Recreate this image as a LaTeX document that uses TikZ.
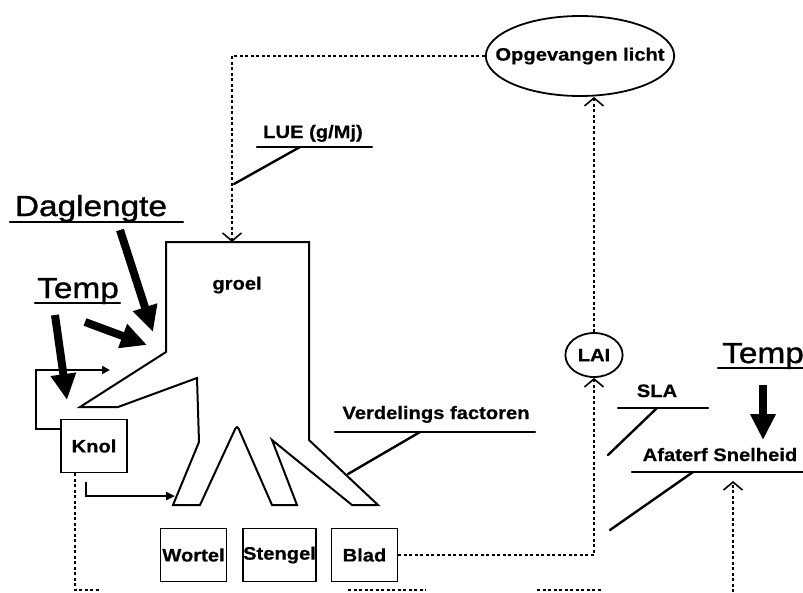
\documentclass[tikz,border=0pt]{standalone}
\usepackage{fontspec}
\setmainfont{Liberation Sans}
\newfontfamily\smallfont[FakeStretch=1.12,FakeBold=0.6]{Liberation Sans}
\newfontfamily\bigfont[FakeStretch=1.15,FakeBold=1.2]{Liberation Sans}
\usetikzlibrary{shapes,arrows.meta,positioning}

\begin{document}
\begin{tikzpicture}[x=1pt,y=-1pt,
	small/.style={font=\smallfont\bfseries\fontsize{18}{20}\selectfont,inner sep=0pt},
	big/.style={font=\bigfont\fontsize{29}{32}\selectfont,inner sep=0pt,anchor=base},
	box/.style={small,draw,line width=1.6pt,minimum width=66pt,minimum height=53pt},
	bubble/.style={small,draw,ellipse,line width=1.8pt,inner ysep=0pt},
	uline/.style={line width=2.4pt,line cap=round},
	dotline/.style={line width=2.2pt,dash pattern=on 3pt off 2.5pt,-{Straight Barb[length=8pt,width=19pt,line width=1.6pt]}},
	bigarrow/.style={line width=8pt,-{Triangle[length=26pt,width=24pt]}}]
	\fill[white] (0,0) rectangle (803,592);
	\useasboundingbox (0,0) rectangle (803,592);

	\node[bubble,inner xsep=-18pt,minimum height=80pt] (opg) at (580,56) {Opgevangen licht};
	\node[bubble,inner xsep=4pt,minimum height=44pt] (lai) at (594,355) {LAI};
	\node[box] (knol) at (94,446) {Knol};
	\node[box] (wortel) at (193.5,555) {Wortel};
	\node[box] (stengel) at (279.5,555) {Stengel};
	\node[box] (blad) at (364.5,555) {Blad};
	\node[small] (groel) at (237,285) {groel};

	\node[big] (dag) at (91,216) {Daglengte};
	\node[big] (temp1) at (78,298) {Temp};
	\node[big] (temp2) at (763,363) {Temp};
	\node[small,anchor=base] (lue) at (313,138) {LUE (g/Mj)};
	\node[small,anchor=base] (verd) at (436,419) {Verdelings factoren};
	\node[small,anchor=base] (sla) at (657,397) {SLA};
	\node[small,anchor=base] (afst) at (720,461) {Afaterf Snelheid};

	\coordinate (groeltop) at (232,242);
	\coordinate (luein) at (234,184);
	\coordinate (verdin) at (348,474);
	\coordinate (slain) at (608,455);
	\coordinate (afstin) at (610,530);
	\coordinate (loopend) at (110,370);
	\coordinate (wortin) at (175,496);

	\draw[line width=2pt,line join=miter]
	(166,242) -- (309,242) -- (309,440) -- (378,505) -- (352,505) -- (272,440)
	-- (297,505) -- (272,505) [rounded corners=4pt] -- (237,425) [sharp corners]
	-- (200,505) -- (173,505) -- (199,442) -- (197,378) -- (118,407) -- (80,407)
	-- (166,352) -- cycle;

	\draw[uline] (10,222) -- (183,222);
	\draw[uline] (35,303) -- (120,303);
	\draw[uline] (718,368) -- (803,368);
	\draw[uline] (257,147) -- (372,147);
	\draw[uline] (335,432) -- (535,432);
	\draw[uline] (618,408) -- (708,408);
	\draw[uline] (632,472) -- (803,472);

	\draw[uline] (300,147) -- (luein);
	\draw[uline] (420,432) -- (verdin);
	\draw[uline] (657,408) -- (slain);
	\draw[uline] (693,472) -- (afstin);

	\draw[bigarrow] (120,230) -- (153,332);
	\draw[bigarrow] (55,315) -- (67,400);
	\draw[bigarrow] (85,322) -- (147,345);
	\draw[bigarrow] (temp2.south |- 0,385) -- (763,440);

	\draw[line width=2.6pt,-{Triangle[length=8pt,width=8pt]}]
	([yshift=17pt]knol.west) -- (36,429) -- (36,370) -- (loopend);
	\draw[line width=2.6pt,-{Triangle[length=9pt,width=8pt]}]
	([xshift=-8pt,yshift=-9pt]knol.south) |- (wortin);

	\draw[dotline] (opg.west) -| (groeltop);
	\draw[dotline] (lai.north) -- (lai.north |- opg.south);
	\draw[dotline] (blad.east) -| (lai.south);
	\draw[dotline] (733,592) -- (733,481);
	\draw[dotline,-] ([xshift=-19pt]knol.south) -- (75,590) -- (99,590);
	\draw[dotline,-] (348,590) -- (426,590);
	\draw[dotline,-] (537,590) -- (602,590);
\end{tikzpicture}
\end{document}
